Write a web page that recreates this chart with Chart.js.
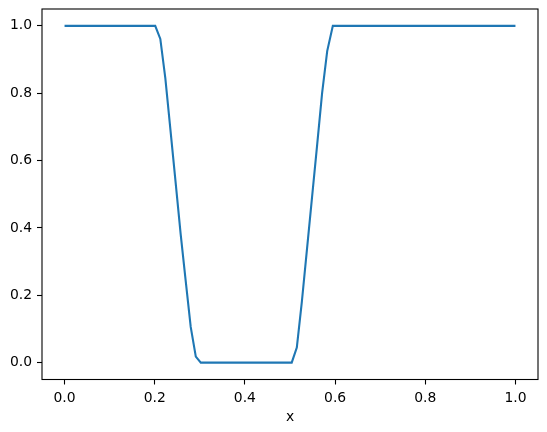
<!DOCTYPE html>
<html lang="en">
<head>
    <meta charset="UTF-8">
    <title>Step profile</title>
    <script src="https://cdn.jsdelivr.net/npm/chart.js"></script>
    <style>
        body {
            margin: 0;
            padding: 0;
            background: #fff;
        }
        #wrap {
            width: 547px;
            height: 432px;
        }
    </style>
</head>
<body>
    <div id="wrap"><canvas id="profileChart" width="547" height="432"></canvas></div>

    <script>
        // values (vertices of the curve)
        const xValues = [0.0,
            0.2011, 0.2124, 0.2235, 0.2348, 0.2461, 0.2574, 0.2685, 0.2798, 0.2911, 0.3022,
            0.5038, 0.5151, 0.5262, 0.5375, 0.5488, 0.5601, 0.5712, 0.5825, 0.5950,
            1.0];
        const uValues = [1.0,
            1.0, 0.961, 0.845, 0.692, 0.538, 0.383, 0.245, 0.106, 0.018, 0.0,
            0.0, 0.045, 0.18, 0.335, 0.49, 0.645, 0.80, 0.925, 1.0,
            1.0];
        const xTicks = [0.0, 0.2, 0.4, 0.6, 0.8, 1.0];
        const yTicks = [0.0, 0.2, 0.4, 0.6, 0.8, 1.0];
        const xLabel = 'x';

        const points = xValues.map((x, i) => ({ x: x, y: uValues[i] }));
        const tickFont = { family: 'DejaVu Sans', size: 13.9 };

        // matplotlib style box around the axes
        const framePlugin = {
            id: 'frame',
            afterDraw(chart) {
                const a = chart.chartArea;
                const ctx = chart.ctx;
                ctx.save();
                ctx.strokeStyle = '#000';
                ctx.lineWidth = 1.1;
                ctx.strokeRect(a.left, a.top, a.right - a.left, a.bottom - a.top);
                ctx.restore();
            }
        };

        new Chart(document.getElementById('profileChart'), {
            type: 'line',
            data: {
                datasets: [{
                    data: points,
                    borderColor: '#1f77b4',
                    borderWidth: 2.1,
                    pointRadius: 0,
                    tension: 0,
                    fill: false
                }]
            },
            options: {
                responsive: false,
                animation: false,
                devicePixelRatio: 1,
                layout: { padding: { top: 9, right: 9, left: 0, bottom: 0 } },
                plugins: {
                    legend: { display: false },
                    tooltip: { enabled: false }
                },
                scales: {
                    x: {
                        type: 'linear',
                        min: -0.05,
                        max: 1.05,
                        afterBuildTicks: (s) => { s.ticks = xTicks.map(v => ({ value: v })); },
                        afterFit: (s) => {
                            s.height = 52.5;
                            s.paddingLeft = 0;
                            s.paddingRight = 0;
                        },
                        ticks: {
                            font: tickFont,
                            color: '#000',
                            padding: 6,
                            maxRotation: 0,
                            callback: (v) => v.toFixed(1)
                        },
                        grid: {
                            drawOnChartArea: false,
                            drawTicks: true,
                            tickLength: 5,
                            tickColor: '#000',
                            tickWidth: 1.1
                        },
                        border: { display: false },
                        title: {
                            display: true,
                            text: xLabel,
                            font: tickFont,
                            color: '#000',
                            padding: { top: 0, bottom: 6 }
                        }
                    },
                    y: {
                        type: 'linear',
                        min: -0.05,
                        max: 1.05,
                        afterBuildTicks: (s) => { s.ticks = yTicks.map(v => ({ value: v })); },
                        afterFit: (s) => {
                            s.width = 42;
                            s.paddingTop = 0;
                            s.paddingBottom = 0;
                        },
                        ticks: {
                            font: tickFont,
                            color: '#000',
                            padding: 5,
                            callback: (v) => v.toFixed(1)
                        },
                        grid: {
                            drawOnChartArea: false,
                            drawTicks: true,
                            tickLength: 5,
                            tickColor: '#000',
                            tickWidth: 1.1
                        },
                        border: { display: false }
                    }
                }
            },
            plugins: [framePlugin]
        });
    </script>
</body>
</html>
